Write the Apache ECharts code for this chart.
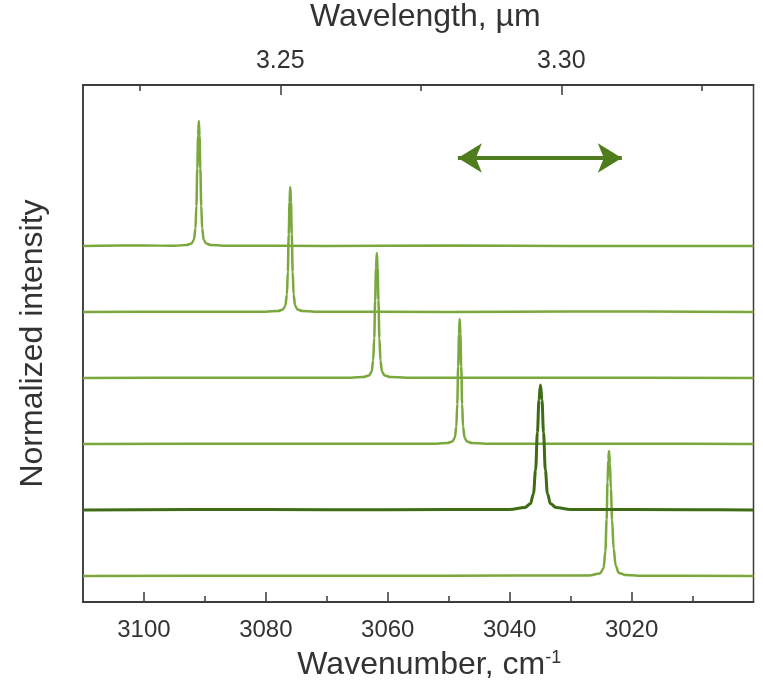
<!DOCTYPE html>
<html>
<head>
<meta charset="utf-8">
<script src="https://cdn.jsdelivr.net/npm/echarts@6/dist/echarts.min.js"></script>
<style>
html,body{margin:0;padding:0;background:#fff;}
#chart{width:763px;height:691px;}
</style>
</head>
<body>
<div id="chart"></div>
<script>
// ---- data ----
// wavenumber (cm-1), normalized intensity pairs, traces listed top to bottom
const traceA = [[3110,0],[3100,0.004],[3095,0.002],[3093.0,0.008],[3092.2,0.02],[3091.8,0.05],[3091.55,0.14],[3091.4,0.32],[3091.25,0.62],[3091.12,0.88],[3091.0,1.0],[3090.88,0.88],[3090.75,0.62],[3090.6,0.32],[3090.45,0.14],[3090.2,0.05],[3089.8,0.02],[3089.0,0.008],[3087,0.003],[3070,0.001],[3050,0.004],[3030,0.001],[3000,0]];
const traceB = [[3110,0],[3095,0.003],[3080,0.003],[3078.0,0.008],[3077.2,0.02],[3076.8,0.05],[3076.55,0.14],[3076.4,0.32],[3076.25,0.62],[3076.12,0.88],[3076.0,1.0],[3075.88,0.88],[3075.75,0.62],[3075.6,0.32],[3075.45,0.14],[3075.2,0.05],[3074.8,0.02],[3074.0,0.008],[3072,0.003],[3050,0.001],[3030,0.004],[3000,0]];
const traceC = [[3110,0],[3090,0.003],[3066,0.003],[3064.0,0.008],[3063.1,0.02],[3062.65,0.05],[3062.4,0.14],[3062.22,0.32],[3062.07,0.62],[3061.93,0.88],[3061.8,1.0],[3061.67,0.88],[3061.53,0.62],[3061.38,0.32],[3061.2,0.14],[3060.95,0.05],[3060.5,0.02],[3059.6,0.008],[3057,0.003],[3030,0.002],[3000,0]];
const traceD = [[3110,0],[3080,0.003],[3052,0.003],[3050.2,0.008],[3049.4,0.02],[3049.0,0.05],[3048.75,0.14],[3048.6,0.32],[3048.45,0.62],[3048.32,0.88],[3048.2,1.0],[3048.08,0.88],[3047.95,0.62],[3047.8,0.32],[3047.65,0.14],[3047.4,0.05],[3047.0,0.02],[3046.2,0.008],[3044,0.003],[3020,0.002],[3000,0]];
const traceE = [[3110,0],[3080,0.004],[3060,0.002],[3040,0.005],[3037.5,0.02],[3036.6,0.05],[3036.1,0.13],[3035.75,0.32],[3035.45,0.62],[3035.2,0.88],[3034.95,1.0],[3034.7,0.88],[3034.45,0.62],[3034.15,0.32],[3033.8,0.13],[3033.3,0.05],[3032.4,0.02],[3030,0.005],[3010,0.002],[3000,0]];
const traceF = [[3110,0],[3080,0.003],[3050,0.003],[3027,0.005],[3025.2,0.02],[3024.6,0.06],[3024.3,0.2],[3024.1,0.45],[3023.95,0.75],[3023.82,0.93],[3023.7,1.0],[3023.55,0.9],[3023.4,0.7],[3023.2,0.45],[3022.95,0.22],[3022.6,0.08],[3022.1,0.025],[3021.0,0.008],[3019,0.003],[3000,0]];
const traces = [traceA, traceB, traceC, traceD, traceE, traceF];
const offsets = [2.64, 2.112, 1.584, 1.056, 0.528, 0];   // vertical stacking offsets
const darkTrace = 4;                                      // index of the dark trace

// axes
const wnMin = 3000, wnMax = 3110;
const wnMajorTicks = [3100, 3080, 3060, 3040, 3020];
const wnMinorTicks = [3090, 3070, 3050, 3030, 3010];
const wlMin = 3.2149, wlMax = 3.3342;
const wlMajorTicks = [3.25, 3.30];
const wlMinorTicks = [3.225, 3.275, 3.325];
const yMin = -0.208, yMax = 3.928;

// double arrow annotation (wavenumber, y)
const arrowFrom = [3048.5, 3.344];
const arrowTo = [3021.6, 3.344];

// ---- chart ----
const FONT = 'Liberation Sans, Arial, sans-serif';
const AX = '#3a3a3a';
const LIGHT = '#7aa83c';
const DARK = '#3e6b14';
const ARROW = '#4f7d1e';

const chart = echarts.init(document.getElementById('chart'), null, {renderer: 'canvas'});

function axisBase(extra) {
  return Object.assign({
    type: 'value',
    axisLine: {show: true, onZero: false, lineStyle: {color: AX, width: 1.5}},
    splitLine: {show: false},
    splitArea: {show: false}
  }, extra);
}

const series = traces.map((tr, i) => ({
  type: 'line',
  xAxisIndex: 0,
  yAxisIndex: 0,
  showSymbol: false,
  symbol: 'none',
  smooth: 0.35,
  smoothMonotone: 'x',
  z: i === darkTrace ? 4 : 3,
  lineStyle: {color: i === darkTrace ? DARK : LIGHT, width: i === darkTrace ? 3 : 2.5},
  data: tr.map(p => [p[0], p[1] + offsets[i]])
}));

series.push({
  type: 'line',
  xAxisIndex: 0,
  yAxisIndex: 0,
  data: [],
  markLine: {
    silent: true,
    symbol: ['arrow', 'arrow'],
    symbolSize: [22, 24],
    label: {show: false},
    lineStyle: {color: ARROW, width: 4, type: 'solid'},
    data: [[{coord: arrowFrom}, {coord: arrowTo}]]
  }
});

const plain = v => String(Math.round(v));

const option = {
  animation: false,
  backgroundColor: '#ffffff',
  textStyle: {fontFamily: FONT},
  grid: {left: 83, right: 9.5, top: 85, bottom: 89, show: true, borderColor: AX, borderWidth: 1.5,
    containLabel: false, outerBoundsMode: 'none'},
  xAxis: [
    axisBase({
      position: 'bottom', min: wnMin, max: wnMax, inverse: true,
      name: 'Wavenumber, cm{sup|-1}', nameLocation: 'middle', nameGap: 47,
      nameTextStyle: {fontFamily: FONT, fontSize: 32, color: '#333', padding: [0, 0, 0, 22],
        rich: {sup: {fontFamily: FONT, fontSize: 18, color: '#333', verticalAlign: 'top', padding: [0,0,15,0]}}},
      axisTick: {show: true, inside: true, length: 10, lineStyle: {color: AX, width: 1.5}, customValues: wnMajorTicks},
      axisLabel: {show: true, margin: 16, fontFamily: FONT, fontSize: 24, color: '#333', customValues: wnMajorTicks, formatter: plain},
      minorTick: {show: false}
    }),
    axisBase({
      position: 'bottom', min: wnMin, max: wnMax, inverse: true,
      axisTick: {show: true, inside: true, length: 6, lineStyle: {color: AX, width: 1.5}, customValues: wnMinorTicks},
      axisLabel: {show: false}
    }),
    axisBase({
      position: 'top', min: wlMin, max: wlMax,
      name: 'Wavelength, µm', nameLocation: 'middle', nameGap: 52,
      nameTextStyle: {fontFamily: FONT, fontSize: 32, color: '#333', padding: [0, 0, 0, 14]},
      axisTick: {show: true, inside: true, length: 10, lineStyle: {color: AX, width: 1.5}, customValues: wlMajorTicks},
      axisLabel: {show: true, margin: 11, fontFamily: FONT, fontSize: 25, color: '#333', customValues: wlMajorTicks,
        formatter: v => v.toFixed(2)}
    }),
    axisBase({
      position: 'top', min: wlMin, max: wlMax,
      axisTick: {show: true, inside: true, length: 6, lineStyle: {color: AX, width: 1.5}, customValues: wlMinorTicks},
      axisLabel: {show: false}
    })
  ],
  yAxis: [
    axisBase({
      min: yMin, max: yMax,
      name: 'Normalized intensity', nameLocation: 'middle', nameGap: 34, nameRotate: 90,
      nameTextStyle: {fontFamily: FONT, fontSize: 32, color: '#333'},
      axisTick: {show: false},
      axisLabel: {show: false}
    })
  ],
  series: series
};

chart.setOption(option);
</script>
</body>
</html>
